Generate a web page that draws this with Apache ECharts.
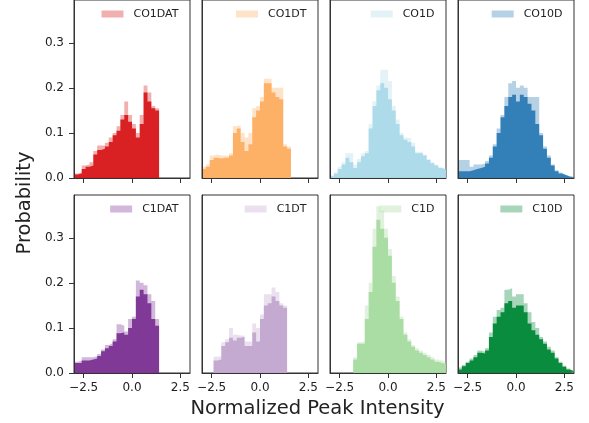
<!DOCTYPE html>
<html><head><meta charset="utf-8">
<script src="https://cdn.jsdelivr.net/npm/echarts@6/dist/echarts.min.js"></script>
<style>html,body{margin:0;padding:0;background:#fff}#c{width:589px;height:423px}</style>
</head><body><div id="c"></div>
<script>
// ---- data ----
const binStart = -3.0;
const binWidth = 0.2;
const labels = ['CO1DAT', 'CO1DT', 'CO1D', 'CO10D', 'C1DAT', 'C1DT', 'C1D', 'C10D'];
const colors = ['#d7191c', '#fdae61', '#abd9e9', '#2c7bb6', '#7b3294', '#c2a5cf', '#a6dba0', '#008837'];
const xTicks = [-2.5, 0, 2.5];
const yTicks = [0, 0.1, 0.2, 0.3];

// peak envelope (lighter) and common body (dark) of the overlaid histograms
const co1datPeak = [0.01,0.012,0.028,0.03,0.035,0.06,0.072,0.072,0.078,0.09,0.1,0.115,0.14,0.17,0.14,0.12,0.1,0.14,0.205,0.19,0.16,0.155];
const co1datBody = [0.008,0.01,0.02,0.025,0.028,0.052,0.062,0.065,0.07,0.08,0.095,0.105,0.13,0.14,0.125,0.11,0.09,0.12,0.19,0.17,0.155,0.15];
const co1dtPeak = [0.025,0.03,0.05,0.052,0.05,0.05,0.048,0.055,0.115,0.117,0.1,0.09,0.1,0.155,0.16,0.18,0.22,0.22,0.2,0.2,0.2,0.075,0.07];
const co1dtBody = [0.02,0.025,0.04,0.045,0.043,0.045,0.045,0.05,0.1,0.11,0.08,0.06,0.075,0.135,0.15,0.17,0.21,0.21,0.19,0.18,0.175,0.07,0.065];
const co1dPeak = [0.006,0.012,0.025,0.035,0.055,0.055,0.03,0.042,0.055,0.06,0.12,0.17,0.205,0.24,0.24,0.215,0.16,0.13,0.1,0.09,0.088,0.078,0.058,0.058,0.052,0.042,0.035,0.03,0.024,0.02];
const co1dBody = [0.004,0.01,0.02,0.03,0.045,0.035,0.022,0.035,0.048,0.055,0.11,0.16,0.195,0.21,0.2,0.175,0.15,0.12,0.095,0.085,0.08,0.07,0.055,0.055,0.05,0.04,0.033,0.028,0.022,0.018];
const co10dPeak = [0.04,0.04,0.04,0.025,0.03,0.03,0.032,0.038,0.05,0.075,0.11,0.14,0.18,0.21,0.215,0.2,0.205,0.2,0.18,0.18,0.18,0.1,0.07,0.05,0.03,0.017,0.012,0.007,0.004,0.002];
const co10dBody = [0.015,0.015,0.015,0.017,0.02,0.022,0.025,0.032,0.045,0.07,0.1,0.135,0.16,0.18,0.185,0.17,0.185,0.18,0.165,0.15,0.12,0.095,0.065,0.045,0.028,0.015,0.01,0.006,0.003,0.002];
const c1datPeak = [0.025,0.027,0.035,0.035,0.035,0.037,0.042,0.052,0.062,0.066,0.075,0.108,0.105,0.092,0.12,0.125,0.205,0.2,0.195,0.175,0.16,0.12];
const c1datBody = [0.022,0.022,0.028,0.028,0.03,0.032,0.038,0.048,0.055,0.06,0.07,0.088,0.09,0.085,0.1,0.12,0.17,0.185,0.175,0.155,0.12,0.105];
const c1dtPeak = [0,0,0,0.036,0.038,0.068,0.075,0.1,0.085,0.083,0.083,0.07,0.07,0.11,0.1,0.13,0.175,0.175,0.19,0.18,0.155,0.15];
const c1dtBody = [0,0,0,0.028,0.03,0.06,0.068,0.078,0.072,0.078,0.08,0.06,0.06,0.09,0.07,0.12,0.15,0.155,0.17,0.16,0.15,0.145];
const c1dPeak = [0,0,0,0,0,0,0.035,0.068,0.07,0.15,0.2,0.32,0.37,0.36,0.32,0.275,0.215,0.17,0.125,0.09,0.075,0.062,0.055,0.05,0.045,0.04,0.035,0.03,0.028,0.025];
const c1dBody = [0,0,0,0,0,0,0.03,0.065,0.065,0.12,0.18,0.28,0.34,0.32,0.3,0.26,0.2,0.16,0.12,0.085,0.07,0.058,0.05,0.045,0.04,0.035,0.03,0.025,0.022,0.02];
const c10dPeak = [0.012,0.018,0.025,0.032,0.04,0.05,0.047,0.055,0.09,0.125,0.14,0.145,0.185,0.188,0.17,0.175,0.175,0.155,0.135,0.113,0.1,0.08,0.07,0.058,0.05,0.035,0.025,0.016,0.01,0.005];
const c10dBody = [0.008,0.015,0.022,0.028,0.035,0.045,0.043,0.05,0.08,0.11,0.125,0.135,0.155,0.16,0.145,0.15,0.15,0.135,0.11,0.095,0.085,0.075,0.065,0.052,0.045,0.032,0.022,0.014,0.008,0.004];

const peaks = [co1datPeak, co1dtPeak, co1dPeak, co10dPeak, c1datPeak, c1dtPeak, c1dPeak, c10dPeak];
const bodies = [co1datBody, co1dtBody, co1dBody, co10dBody, c1datBody, c1dtBody, c1dBody, c10dBody];

// ---- helpers ----
function steps(h) {
  let first = 0;
  while (first < h.length && h[first] === 0) first++;
  const pts = [];
  for (let k = first; k < h.length; k++) pts.push([+(binStart + k * binWidth).toFixed(3), h[k]]);
  pts.push([+(binStart + h.length * binWidth).toFixed(3), h[h.length - 1]]);
  return pts;
}
function rgba(hex, a) {
  const n = parseInt(hex.slice(1), 16);
  return 'rgba(' + (n >> 16) + ',' + ((n >> 8) & 255) + ',' + (n & 255) + ',' + a + ')';
}
const fmtX = v => (v < 0 ? '\u2212' + Math.abs(v).toFixed(1) : v.toFixed(1));
const FONT = 'DejaVu Sans';
const AX = '#333';

// ---- layout ----
const W = 589;
const gridLefts = [74, 202, 330, 458];
const rowTops = [0, 195];
const gw = 116, gh = 178;

const grid = [], xAxis = [], yAxis = [], series = [], legend = [];
for (let i = 0; i < 8; i++) {
  const row = i < 4 ? 0 : 1, col = i % 4;
  grid.push({left: gridLefts[col], top: rowTops[row], width: gw, height: gh, show: true,
    borderColor: AX, borderWidth: 1, backgroundColor: 'transparent'});
  xAxis.push({gridIndex: i, type: 'value', min: -3, max: 3, z: 5,
    axisLine: {show: true, onZero: false, lineStyle: {color: AX, width: 1}},
    axisTick: {show: true, customValues: xTicks, length: 5, lineStyle: {color: AX}},
    axisLabel: {show: row === 1, customValues: xTicks, formatter: fmtX, fontSize: 12,
      fontFamily: FONT, color: '#222', margin: 9},
    splitLine: {show: false}});
  yAxis.push({gridIndex: i, type: 'value', min: 0, max: 0.395, z: 5,
    axisLine: {show: true, onZero: false, lineStyle: {color: AX, width: 1}},
    axisTick: {show: col === 0, customValues: yTicks, length: 5, lineStyle: {color: AX}},
    axisLabel: {show: col === 0, customValues: yTicks, formatter: v => v.toFixed(1), fontSize: 12,
      fontFamily: FONT, color: '#222', margin: 10},
    splitLine: {show: false}});
  series.push({type: 'line', name: labels[i], xAxisIndex: i, yAxisIndex: i, step: 'end',
    symbol: 'none', silent: true, z: 2, lineStyle: {width: 0, opacity: 0},
    itemStyle: {color: rgba(colors[i], 0.35)},
    areaStyle: {color: rgba(colors[i], 0.35), opacity: 1}, data: steps(peaks[i])});
  series.push({type: 'line', name: labels[i] + ' body', xAxisIndex: i, yAxisIndex: i, step: 'end',
    symbol: 'none', silent: true, z: 3, lineStyle: {width: 0, opacity: 0},
    itemStyle: {color: colors[i]},
    areaStyle: {color: rgba(colors[i], 0.95), opacity: 1}, data: steps(bodies[i])});
  legend.push({data: [{name: labels[i], icon: 'rect', itemStyle: {color: rgba(colors[i], 0.35)}}],
    selectedMode: false, orient: 'horizontal', padding: 0,
    right: W - (gridLefts[col] + gw) + 11.5, top: rowTops[row] + 8.5,
    itemWidth: 22, itemHeight: 7,
    textStyle: {fontSize: 11, fontFamily: FONT, color: '#222', padding: [0, 0, 0, 5]}});
}

const chart = echarts.init(document.getElementById('c'), null, {renderer: 'canvas'});
chart.setOption({
  animation: false,
  backgroundColor: '#fff',
  grid, xAxis, yAxis, series, legend,
  graphic: [
    {type: 'text', x: 24.5, y: 203, rotation: Math.PI / 2,
      style: {text: 'Probability', fontSize: 19.5, fontFamily: FONT, fill: '#222', align: 'center', verticalAlign: 'middle'}},
    {type: 'text', x: 317.5, y: 408.5,
      style: {text: 'Normalized Peak Intensity', fontSize: 19.5, fontFamily: FONT, fill: '#222', align: 'center', verticalAlign: 'middle'}}
  ]
});
</script></body></html>
